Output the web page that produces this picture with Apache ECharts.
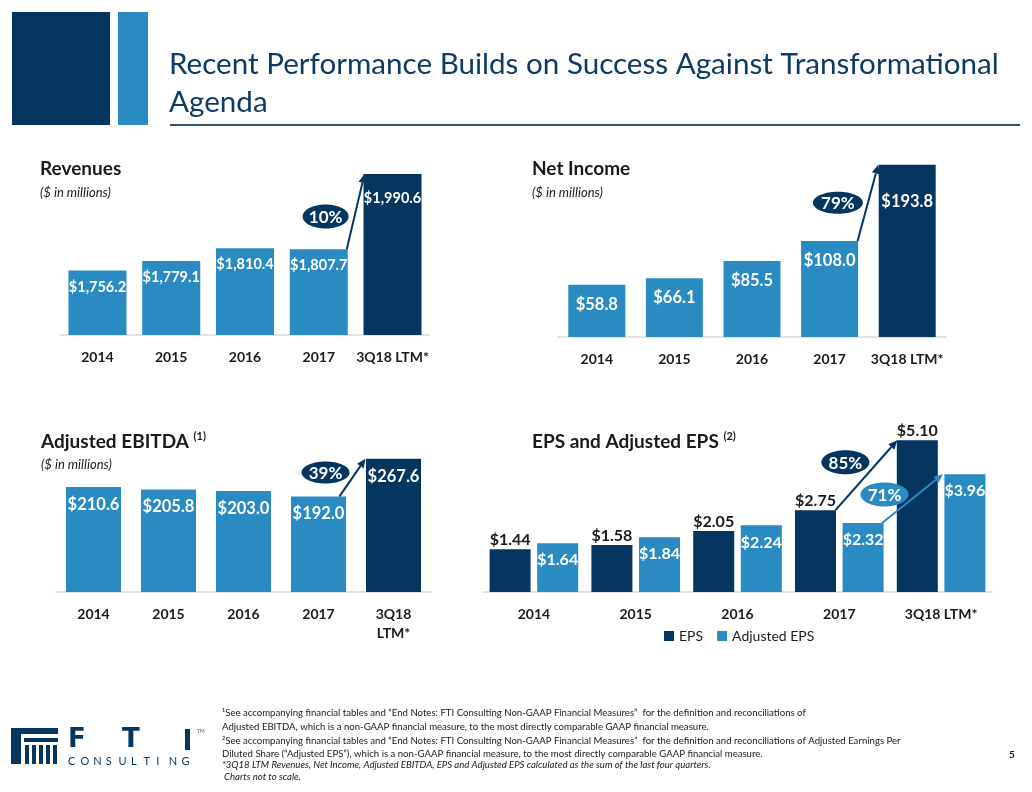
<!DOCTYPE html>
<html><head><meta charset="utf-8">
<script src="https://cdn.jsdelivr.net/npm/echarts@6/dist/echarts.min.js"></script>
<style>html,body{margin:0;padding:0;background:#fff}#c{width:1032px;height:792px}</style>
</head><body><div id="c"></div>
<script>
// ---------- data ----------
const categories = ['2014', '2015', '2016', '2017', '3Q18 LTM*'];
const revenues   = [1756.2, 1779.1, 1810.4, 1807.7, 1990.6];
const netIncome  = [58.8, 66.1, 85.5, 108.0, 193.8];
const adjEbitda  = [210.6, 205.8, 203.0, 192.0, 267.6];
const eps        = [1.44, 1.58, 2.05, 2.75, 5.10];
const adjEps     = [1.64, 1.84, 2.24, 2.32, 3.96];
const growthRev = '10%', growthNI = '79%', growthEbitda = '39%', growthEps = '85%', growthAdjEps = '71%';
const seriesNames = ['EPS', 'Adjusted EPS'];

// ---------- style ----------
const DARK = '#04365F', LIGHT = '#2A8BC3', NAVY = '#0C3B66', TXT = '#1A1A1A';
const FF = 'Lato, "Open Sans", sans-serif';
const last = categories.length - 1;

const chart = echarts.init(document.getElementById('c'), null, {renderer: 'canvas'});

function money(d) {
  return v => '$' + v.toLocaleString('en-US', {minimumFractionDigits: d, maximumFractionDigits: d});
}

function xAxis(gi, fmt) {
  return {
    type: 'category', gridIndex: gi, data: categories,
    axisTick: {show: false},
    axisLine: {lineStyle: {color: '#D9D9D9', width: 1.5}},
    axisLabel: {color: TXT, fontFamily: FF, fontWeight: 'bold', fontSize: 14, margin: 13,
      lineHeight: 19, interval: 0, formatter: fmt || (v => v)}
  };
}
function yAxis(gi, min, max) {
  return {type: 'value', gridIndex: gi, min: min, max: max, show: false, splitLine: {show: false}};
}
function singleBar(gi, data, barW, dec, fs, dist, lastDist) {
  return {
    type: 'bar', name: 'b' + gi, xAxisIndex: gi, yAxisIndex: gi, barWidth: barW,
    data: data.map((v, i) => (i === last && lastDist != null) ? {value: v, label: {distance: lastDist}} : v),
    itemStyle: {color: p => p.dataIndex === last ? DARK : LIGHT},
    label: {show: true, position: 'insideTop', distance: dist, color: '#fff', fontFamily: FF,
      fontWeight: 'bold', fontSize: fs, formatter: p => money(dec)(p.value)}
  };
}
// growth arrow + bubble, positioned from the data through the axes
function growth(gi, data, fromIdx, toIdx, label, cfg) {
  return {
    type: 'custom', name: 'g' + gi + label, xAxisIndex: gi, yAxisIndex: gi, z: 10, silent: true,
    data: [[fromIdx, data[fromIdx], toIdx, data[toIdx]]],
    encode: {x: [0, 2], y: [1, 3]},
    clip: false,
    renderItem: (params, api) => {
      const a = api.coord([api.value(0), api.value(1)]);
      const b = api.coord([api.value(2), api.value(3)]);
      const x1 = a[0] + cfg.fromDx, y1 = a[1] + (cfg.fromDy || 0);
      const x2 = b[0] + cfg.toDx, y2 = b[1] + (cfg.toDy || 0);
      const len = Math.hypot(x2 - x1, y2 - y1), ux = (x2 - x1) / len, uy = (y2 - y1) / len;
      const hl = 9, hw = 4;
      const bx = x2 - ux * hl, by = y2 - uy * hl, nx = -uy, ny = ux;
      const mx = (x1 + x2) / 2 + cfg.dx, my = (y1 + y2) / 2 + cfg.dy;
      return {
        type: 'group', children: [
          {type: 'line', shape: {x1: x1, y1: y1, x2: bx, y2: by}, style: {stroke: cfg.color, lineWidth: 2}},
          {type: 'polygon', shape: {points: [[x2, y2], [bx + nx * hw, by + ny * hw], [bx - nx * hw, by - ny * hw]]},
            style: {fill: cfg.color}},
          {type: 'ellipse', shape: {cx: mx, cy: my, rx: cfg.rx || 24, ry: cfg.ry || 12}, style: {fill: cfg.color}},
          {type: 'text', x: mx, y: my + 1, style: {text: label, fill: '#fff', font: 'bold 17px ' + FF,
            align: 'center', verticalAlign: 'middle'}}
        ]
      };
    }
  };
}

// EPS grid bar layout
const EPS_BW = 41, EPS_GAP = 6.6, EPS_OFF = (EPS_BW + EPS_GAP) / 2;

function txt(x, y, text, font, fill, extra) {
  return Object.assign({type: 'text', x: x, y: y, silent: true,
    style: Object.assign({text: text, font: font, fill: fill || TXT, align: 'left', verticalAlign: 'middle'}, extra || {})});
}

const footnotes = [
  '\u00B9See accompanying financial tables and \u201CEnd Notes: FTI Consulting Non-GAAP Financial Measures\u201D  for the definition and reconciliations of',
  'Adjusted EBITDA, which is a non-GAAP financial measure, to the most directly comparable GAAP financial measure.',
  '\u00B2See accompanying financial tables and \u201CEnd Notes: FTI Consulting Non-GAAP Financial Measures\u201D  for the definition and reconciliations of Adjusted Earnings Per',
  'Diluted Share (\u201CAdjusted EPS\u201D), which is a non-GAAP financial measure, to the most directly comparable GAAP financial measure.'
];
const footItalic = [
  '*3Q18 LTM Revenues, Net Income, Adjusted EBITDA, EPS and Adjusted EPS calculated as the sum of the last four quarters.',
  'Charts not to scale.'
];

const HEAD = 'bold 19px ' + FF, SUB = 'italic 13px ' + FF;
const graphics = [
  {type: 'rect', shape: {x: 12, y: 12, width: 98, height: 113}, style: {fill: DARK}, silent: true},
  {type: 'rect', shape: {x: 118, y: 12, width: 30, height: 113}, style: {fill: LIGHT}, silent: true},
  txt(169, 64, 'Recent Performance Builds on Success Against Transformational', '29.6px ' + FF, NAVY),
  txt(169, 102, 'Agenda', '29.6px ' + FF, NAVY),
  {type: 'rect', shape: {x: 170, y: 124, width: 850, height: 2}, style: {fill: '#2F5473'}, silent: true},
  txt(40, 169, 'Revenues', HEAD),
  txt(40, 193, '($ in millions)', SUB),
  txt(532, 169, 'Net Income', HEAD),
  txt(532, 193, '($ in millions)', SUB),
  {type: 'text', x: 41, y: 431, silent: true, style: {text: '{a|Adjusted EBITDA }{s|(1)}', fill: TXT,
    rich: {a: {font: HEAD, lineHeight: 21, fill: TXT}, s: {font: 'bold 11px ' + FF, lineHeight: 11, verticalAlign: 'top', fill: TXT}}}},
  txt(41, 465, '($ in millions)', SUB),
  {type: 'text', x: 532, y: 431, silent: true, style: {text: '{a|EPS and Adjusted EPS }{s|(2)}', fill: TXT,
    rich: {a: {font: HEAD, lineHeight: 21, fill: TXT}, s: {font: 'bold 11px ' + FF, lineHeight: 11, verticalAlign: 'top', fill: TXT}}}},
  txt(1012, 755, '5', 'bold 10px ' + FF, TXT, {align: 'center'})
];
const footY = [713, 727, 741, 754];
footnotes.forEach((t, i) => graphics.push(txt(222, footY[i], t, '9.6px ' + FF)));
graphics.push(txt(222, 765, footItalic[0], 'italic 9.6px ' + FF));
graphics.push(txt(224, 777, footItalic[1], 'italic 9.6px ' + FF));

// logo
graphics.push({type: 'rect', shape: {x: 11, y: 728, width: 47, height: 6}, style: {fill: DARK}, silent: true});
graphics.push({type: 'rect', shape: {x: 11, y: 728, width: 10, height: 36}, style: {fill: DARK}, silent: true});
graphics.push({type: 'rect', shape: {x: 24, y: 738, width: 34, height: 4}, style: {fill: DARK}, silent: true});
for (let i = 0; i < 5; i++) {
  graphics.push({type: 'rect', shape: {x: 25 + i * 7, y: 745, width: 4, height: 19}, style: {fill: DARK}, silent: true});
}
graphics.push(txt(68, 740, 'F', 'bold 26px "DejaVu Sans", ' + FF, DARK));
graphics.push(txt(122, 740, 'T', 'bold 26px "DejaVu Sans", ' + FF, DARK));
graphics.push({type: 'rect', shape: {x: 185, y: 729, width: 5, height: 21}, style: {fill: DARK}, silent: true});
graphics.push(txt(197, 731, 'TM', '5px ' + FF, '#555'));
'CONSULTING'.split('').forEach((ch, i) => graphics.push(txt(68 + i * 12.6, 761, ch, '11px ' + FF, DARK)));

const option = {
  backgroundColor: '#fff',
  animation: false,
  grid: [
    {left: 60.6, top: 170, width: 368.8, height: 165},
    {left: 558, top: 159.2, width: 388, height: 177.8},
    {left: 56, top: 442.6, width: 375, height: 149.4},
    {left: 483, top: 413.5, width: 509, height: 178.5}
  ],
  xAxis: [xAxis(0), xAxis(1), xAxis(2, v => v.replace(' ', '\n')), xAxis(3)],
  yAxis: [yAxis(0, 1600, 2000), yAxis(1, 0, 200), yAxis(2, 0, 300), yAxis(3, 0, 6)],
  legend: {
    data: seriesNames, left: 659, top: 624, icon: 'rect', itemWidth: 10, itemHeight: 10, itemGap: 14,
    textStyle: {color: TXT, fontFamily: FF, fontSize: 14}, selectedMode: false
  },
  series: [
    singleBar(0, revenues, 58, 1, 14.5, 9, 17),
    singleBar(1, netIncome, 57, 1, 16.5, 11, 28),
    singleBar(2, adjEbitda, 55, 1, 16.5, 9),
    {
      type: 'bar', name: seriesNames[0], xAxisIndex: 3, yAxisIndex: 3, data: eps, barWidth: EPS_BW,
      barGap: (EPS_GAP / EPS_BW * 100) + '%', itemStyle: {color: DARK},
      label: {show: true, position: 'top', distance: 1, color: TXT, fontFamily: FF, fontWeight: 'bold',
        fontSize: 16, formatter: p => money(2)(p.value)}
    },
    {
      type: 'bar', name: seriesNames[1], xAxisIndex: 3, yAxisIndex: 3, data: adjEps, barWidth: EPS_BW,
      barGap: (EPS_GAP / EPS_BW * 100) + '%', itemStyle: {color: LIGHT},
      label: {show: true, position: 'insideTop', distance: 9, color: '#fff', fontFamily: FF, fontWeight: 'bold',
        fontSize: 16, formatter: p => money(2)(p.value)}
    },
    growth(0, revenues, 3, 4, growthRev, {fromDx: 28, toDx: -28, dx: -30, dy: 5, color: DARK, rx: 23, ry: 12}),
    growth(1, netIncome, 3, 4, growthNI, {fromDx: 28, toDx: -29, dx: -30, dy: 0, color: DARK, rx: 25, ry: 11}),
    growth(2, adjEbitda, 3, 4, growthEbitda, {fromDx: 21, toDx: -28, dx: -27, dy: -5, color: DARK, rx: 24, ry: 11}),
    growth(3, eps, 3, 4, growthEps, {fromDx: -EPS_OFF + 20, toDx: -EPS_OFF - 20, dx: -21, dy: -13, color: DARK, rx: 24, ry: 12}),
    growth(3, adjEps, 3, 4, growthAdjEps, {fromDx: EPS_OFF + 19, toDx: EPS_OFF - 22, dx: -28, dy: -4, color: LIGHT, rx: 24, ry: 12})
  ],
  graphic: graphics
};
chart.setOption(option);
</script></body></html>
